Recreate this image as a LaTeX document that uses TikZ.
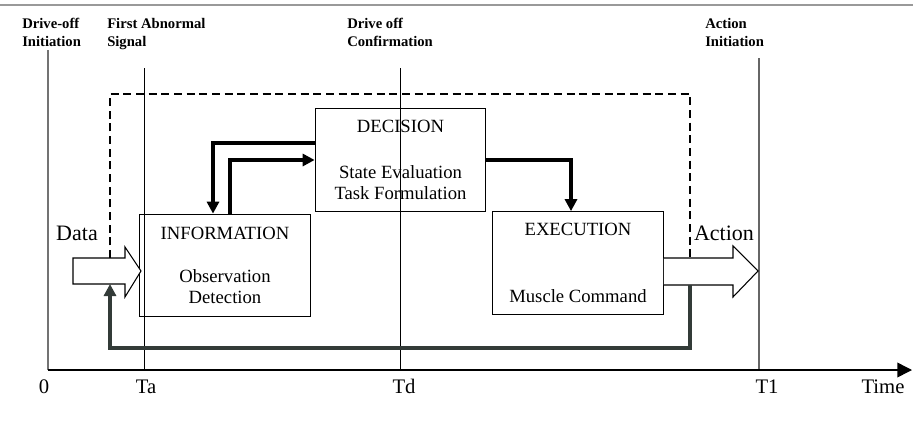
\documentclass[tikz,border=0pt]{standalone}
\usepackage{fontspec}
\setmainfont{Liberation Serif}
\usetikzlibrary{positioning,calc,arrows.meta}
\definecolor{fbgray}{HTML}{333B38}
\tikzset{
  stage/.style={draw, line width=0.8pt, align=center, font=\fontsize{14}{16}\selectfont,
    minimum width=128pt, minimum height=77pt, inner sep=0pt},
  flow/.style={line width=3pt, -{Triangle[length=9pt,width=9pt]}},
  feedback/.style={line width=3pt, fbgray, -{Triangle[length=9pt,width=9pt]}},
  envelope/.style={line width=1.4pt, dash pattern=on 6pt off 3.5pt},
  blockarrow/.style={draw, line width=0.8pt, fill=white},
  timeline/.style={line width=0.6pt},
  event/.style={anchor=base west, align=left, font=\fontsize{11}{13.5}\selectfont\bfseries, inner sep=0pt},
  tick/.style={anchor=base, font=\fontsize{15.5}{17}\selectfont, inner sep=0pt},
  flowlabel/.style={anchor=base, font=\fontsize{16.5}{18}\selectfont, inner sep=0pt}
}
\begin{document}
\begin{tikzpicture}[x=0.75pt, y=-0.75pt]
  \useasboundingbox (0,0) rectangle (913,425);
  % page rule
  \draw[line width=2.2pt, gray!80] (0,5) -- (913,5);

  % time lines and events
  \draw[timeline, gray!90!black, line width=1.1pt] (48,50) -- (48,370);
  \foreach \tx/\ty in {144/68, 400/68}
    \draw[timeline] (\tx,\ty) -- (\tx,370);
  \draw[timeline, gray!80!black, line width=0.8pt] (759,58) -- (759,370);
  \node[event] (ev0) at (22,46) {Drive-off\\Initiation};
  \node[event] (eva) at (107,46) {First Abnormal\\Signal};
  \node[event] (evd) at (347,46) {Drive off\\Confirmation};
  \node[event] (ev1) at (705,46) {Action\\Initiation};

  % axis
  \coordinate (origin) at (48,370);
  \coordinate (tend) at (912,370);
  \draw[line width=1.1pt, -{Triangle[length=11pt,width=11pt]}] (origin) -- (tend);
  \node[tick] (t0) at (44,393) {0};
  \node[tick] (ta) at (146,393) {Ta};
  \node[tick] (td) at (404,393) {Td};
  \node[tick] (t1) at (767,393) {T1};
  \node[tick] (time) at (883,393) {Time};

  % stages
  \node[stage] (info) at (225,265.5) {INFORMATION\\[16pt]Observation\\Detection};
  \node[stage] (dec) at (400.5,160) {DECISION\\[18pt]State Evaluation\\Task Formulation};
  \node[stage] (exec) at (578,263) {EXECUTION\\[34pt]Muscle Command};

  % data in, action out
  \draw[blockarrow] (73,258) -- (125,258) -- (125,247) -- (141,271) -- (125,297)
    -- (125,284) -- (73,284) -- cycle;
  \draw[blockarrow] (exec.east |- 0,258) -- (733,258) -- (733,246) -- (758,271)
    -- (733,297) -- (733,285) -- (exec.east |- 0,285);
  \node[flowlabel] (data) at (77,240) {Data};
  \node[flowlabel] (action) at (724,240) {Action};
  \coordinate (datatop) at (110,258);
  \coordinate (databot) at (110,284);
  \coordinate (acttop) at (690,258);
  \coordinate (actbot) at (690,285);
  \coordinate (envtl) at (110,94);
  \coordinate (fbbr) at (690,348);

  % supervision envelope
  \draw[envelope] (datatop) -- (envtl) -| (acttop);

  % stage links
  \draw[flow] ($(dec.west)+(0,-17)$) -| ($(info.north)+(-12,0)$);
  \draw[flow] ($(info.north)+(5,0)$) |- (dec.west);
  \draw[flow] (dec.east) -| ($(exec.north)+(-7,0)$);
  \draw[feedback] (actbot) -- (fbbr) -| (databot);
\end{tikzpicture}
\end{document}
